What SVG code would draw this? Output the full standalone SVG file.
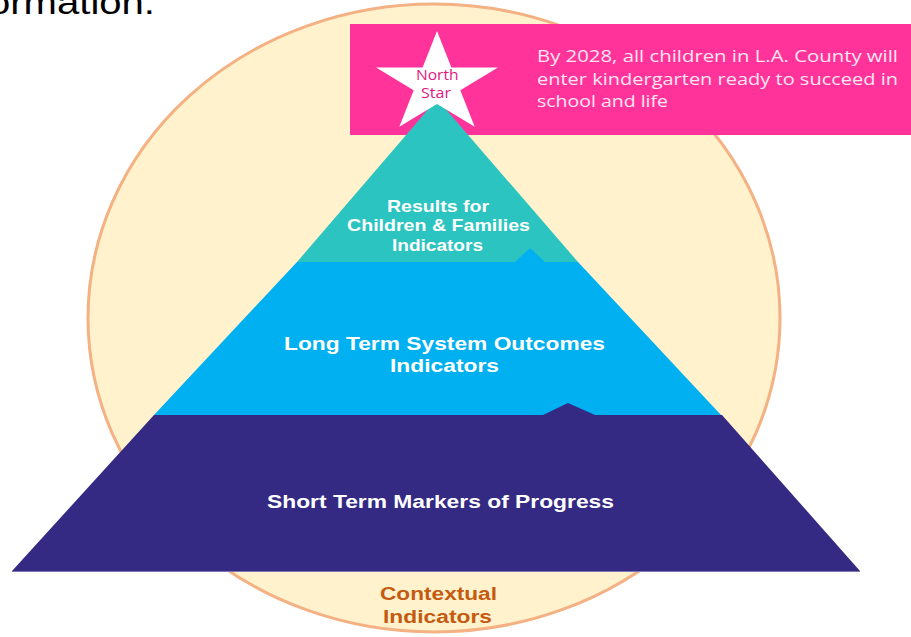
<svg xmlns="http://www.w3.org/2000/svg" width="911" height="637" viewBox="0 0 911 637">
  <style>
    .bold { font-family: "Liberation Sans", Arial, sans-serif; font-weight: bold; fill: #FFFFFF; }
    .soft { font-family: "Open Sans", "Noto Sans", sans-serif; }
    .goal { fill: #FFE6F2; font-size: 16px; }
    .star-label { fill: #E0197F; font-size: 14px; }
    .context { font-family: "Liberation Sans", Arial, sans-serif; font-weight: bold; fill: #C55A11; font-size: 17.5px; }
  </style>

  <rect width="911" height="637" fill="#FFFFFF"/>

  <!-- trailing word of the heading line above -->
  <text x="-12" y="14" font-family="'Liberation Sans', Arial, sans-serif" font-size="34" fill="#000000" textLength="167" lengthAdjust="spacingAndGlyphs">ormation.</text>

  <!-- contextual indicators backdrop -->
  <g id="context">
    <ellipse cx="434" cy="318" rx="346" ry="314" fill="#FFF2CC" stroke="#F4B183" stroke-width="3"/>
    <text class="context" x="380" y="599.5" textLength="117" lengthAdjust="spacingAndGlyphs">Contextual</text>
    <text class="context" x="383" y="622.5" textLength="109" lengthAdjust="spacingAndGlyphs">Indicators</text>
  </g>

  <!-- north star goal banner -->
  <g id="goal">
    <rect x="350" y="24" width="561" height="111" fill="#FF3399"/>
    <text class="soft goal" x="537" y="61.7" textLength="361" lengthAdjust="spacingAndGlyphs">By 2028, all children in L.A. County will</text>
    <text class="soft goal" x="537" y="85" textLength="361" lengthAdjust="spacingAndGlyphs">enter kindergarten ready to succeed in</text>
    <text class="soft goal" x="537" y="106.7" textLength="131" lengthAdjust="spacingAndGlyphs">school and life</text>
  </g>

  <!-- top tier -->
  <g id="results">
    <polygon points="437,99 578,262 297,262" fill="#2BC4C0"/>
    <text class="bold" font-size="16.5" x="387" y="212" textLength="102" lengthAdjust="spacingAndGlyphs">Results for</text>
    <text class="bold" font-size="16.5" x="347" y="231" textLength="183" lengthAdjust="spacingAndGlyphs">Children &amp; Families</text>
    <text class="bold" font-size="16.5" x="392" y="251" textLength="91" lengthAdjust="spacingAndGlyphs">Indicators</text>
  </g>

  <!-- middle tier -->
  <g id="long-term">
    <polygon points="297,262 515,262 530,248 545,262 578,262 721,415 154,415" fill="#00B0F0"/>
    <text class="bold" font-size="18.5" x="284" y="350" textLength="321" lengthAdjust="spacingAndGlyphs">Long Term System Outcomes</text>
    <text class="bold" font-size="18.5" x="390" y="372" textLength="109" lengthAdjust="spacingAndGlyphs">Indicators</text>
  </g>

  <!-- bottom tier -->
  <g id="short-term">
    <polygon points="154,415 543,415 568,403 595,415 722,415 860,571 12,571" fill="#342A83"/>
    <line x1="12" y1="571.5" x2="860" y2="571.5" stroke="#7E77B6" stroke-width="1"/>
    <text class="bold" font-size="19" x="267" y="508" textLength="347" lengthAdjust="spacingAndGlyphs">Short Term Markers of Progress</text>
  </g>

  <!-- star at the apex -->
  <g id="north-star">
    <polygon fill="#FFFFFF" points="437,31 451.4,67.6 498,67.6 460.3,90.2 474.7,126.7 437,104.1 399.3,126.7 413.7,90.2 376,67.6 422.6,67.6"/>
    <text class="soft star-label" x="416" y="80" textLength="42.6" lengthAdjust="spacingAndGlyphs">North</text>
    <text class="soft star-label" x="421" y="98" textLength="30" lengthAdjust="spacingAndGlyphs">Star</text>
  </g>
</svg>
